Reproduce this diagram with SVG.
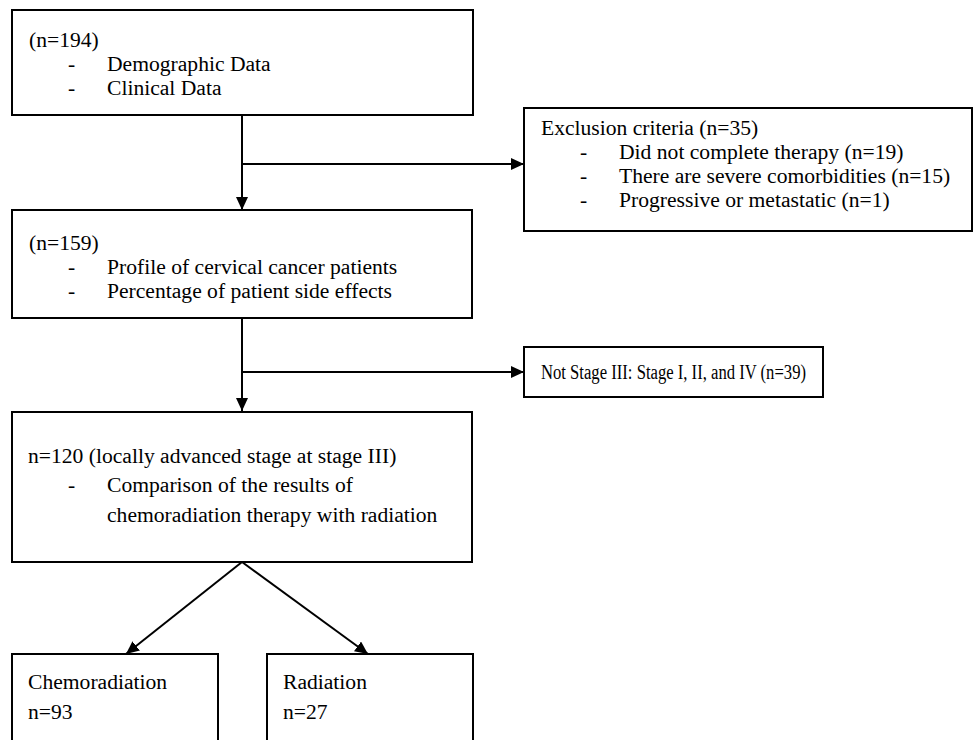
<svg xmlns="http://www.w3.org/2000/svg" width="973" height="740" viewBox="0 0 973 740">
<style>
.box{fill:#fff;stroke:#000;stroke-width:2}
.t{font-family:"Liberation Serif","Times New Roman",serif;font-size:21.6px;fill:#000}
.s{font-size:20px}
.c{fill:none;stroke:#000;stroke-width:2}
</style>
<defs>
<marker id="ah" markerUnits="userSpaceOnUse" markerWidth="13" markerHeight="12" refX="13" refY="6" orient="auto">
<path d="M0,0 L13,6 L0,12 z" fill="#000"/>
</marker>
</defs>
<rect width="973" height="740" fill="#fff"/>
<g id="connectors">
<line class="c" x1="242" y1="115" x2="242" y2="210" marker-end="url(#ah)"/>
<line class="c" x1="242" y1="164" x2="524" y2="164" marker-end="url(#ah)"/>
<line class="c" x1="242" y1="318" x2="242" y2="411" marker-end="url(#ah)"/>
<line class="c" x1="242" y1="372" x2="524" y2="372" marker-end="url(#ah)"/>
<line class="c" x1="242" y1="562" x2="126" y2="654" marker-end="url(#ah)"/>
<line class="c" x1="242" y1="562" x2="368" y2="654" marker-end="url(#ah)"/>
</g>
<g id="n194">
<rect class="box" x="12" y="10" width="461" height="105"/>
<text class="t" x="29" y="47">(n=194)</text>
<text class="t" x="68" y="71">-</text><text class="t" x="107" y="71">Demographic Data</text>
<text class="t" x="68" y="95">-</text><text class="t" x="107" y="95">Clinical Data</text>
</g>
<g id="exclusion">
<rect class="box" x="524" y="108" width="448" height="123"/>
<text class="t" x="541" y="135">Exclusion criteria (n=35)</text>
<text class="t" x="580" y="159">-</text><text class="t" x="619" y="159">Did not complete therapy (n=19)</text>
<text class="t" x="580" y="183">-</text><text class="t" x="619" y="183">There are severe comorbidities (n=15)</text>
<text class="t" x="580" y="207">-</text><text class="t" x="619" y="207">Progressive or metastatic (n=1)</text>
</g>
<g id="n159">
<rect class="box" x="12" y="210" width="460" height="108"/>
<text class="t" x="29" y="250">(n=159)</text>
<text class="t" x="68" y="274">-</text><text class="t" x="107" y="274">Profile of cervical cancer patients</text>
<text class="t" x="68" y="298">-</text><text class="t" x="107" y="298">Percentage of patient side effects</text>
</g>
<g id="notstage3">
<rect class="box" x="524" y="347" width="299" height="50"/>
<text class="t s" x="541" y="379" textLength="265" lengthAdjust="spacingAndGlyphs">Not Stage III: Stage I, II, and IV (n=39)</text>
</g>
<g id="n120">
<rect class="box" x="12" y="412" width="460" height="150"/>
<text class="t" x="28" y="463">n=120 (locally advanced stage at stage III)</text>
<text class="t" x="68" y="492">-</text><text class="t" x="107" y="492">Comparison of the results of</text>
<text class="t" x="107" y="522">chemoradiation therapy with radiation</text>
</g>
<g id="chemoradiation">
<rect class="box" x="12" y="654" width="206" height="110"/>
<text class="t" x="28" y="689">Chemoradiation</text>
<text class="t" x="28" y="719">n=93</text>
</g>
<g id="radiation">
<rect class="box" x="267" y="654" width="206" height="110"/>
<text class="t" x="283" y="689">Radiation</text>
<text class="t" x="283" y="719">n=27</text>
</g>
</svg>
